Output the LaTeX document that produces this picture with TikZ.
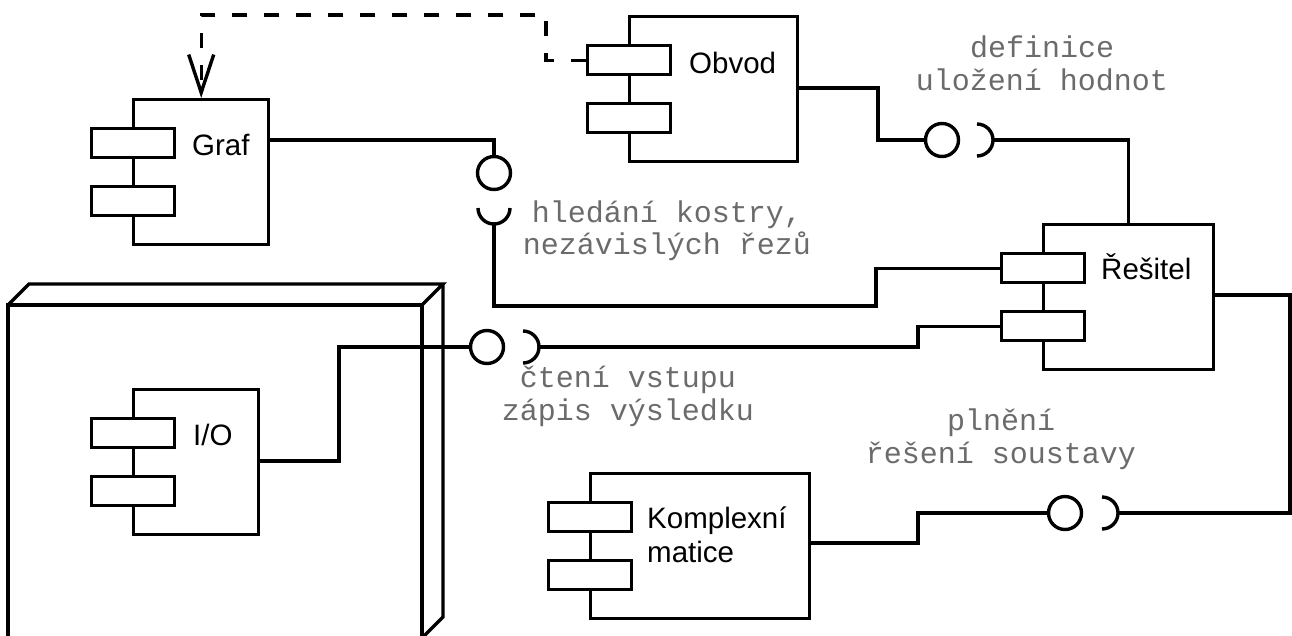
\documentclass[tikz,border=0pt]{standalone}
\usepackage{fontspec}
\newfontfamily\namefont{Liberation Sans}
\newfontfamily\lblfont{Liberation Mono}
\usetikzlibrary{arrows.meta}
\newcommand\umlcomp[4]{%
  \node[compbody, minimum width=#4pt] (#1) at (#2,#3) {};
  \node[compport] (#1-p1) at ([xshift=-42pt,yshift=-29pt]#1.north west) {};
  \node[compport] (#1-p2) at ([xshift=-42pt,yshift=-87pt]#1.north west) {};
}
\begin{document}
\begin{tikzpicture}[x=1pt,y=-1pt,
  lw/.style={line width=3.4pt},
  conn/.style={lw, line join=miter},
  compbody/.style={draw, lw, fill=white, minimum height=145pt, inner sep=0pt, anchor=north west},
  compport/.style={draw, lw, fill=white, minimum width=83pt, minimum height=29pt, inner sep=0pt, anchor=north west},
  compname/.style={font=\namefont\fontsize{29.5}{34}\selectfont, inner sep=0pt, anchor=base west},
  lbl/.style={font=\lblfont\fontsize{30}{33}\selectfont, text=black!58, inner sep=0pt, anchor=base},
  prov/.style={circle, draw, lw, fill=white, minimum size=33pt, inner sep=0pt},
]
\useasboundingbox (0,0) rectangle (1292,635);
\clip (0,0) rectangle (1292,635);

% 3D node
\draw[lw, line join=miter] (8,650) -- (8,305) -- (422,305) -- (422,650);
\draw[lw, line join=miter] (8,305) -- (29,284) -- (443,284) -- (422,305);
\draw[lw, line join=miter] (443,284) -- (443,617) -- (422,638);

% components
\umlcomp{graf}{132}{98}{135}
\umlcomp{obvod}{628}{15}{168}
\umlcomp{resitel}{1042}{223}{170}
\umlcomp{io}{132}{388}{125}
\umlcomp{kmat}{589}{472}{219}

\node[compname] (grafname) at (192,155) {Graf};
\node[compname] (obvodname) at (689,73) {Obvod};
\node[compname] (resitelname) at (1101,279) {Řešitel};
\node[compname] (ioname) at (193,445) {I/O};
\node[compname] (kmatname1) at (647,528) {Komplexní};
\node[compname] (kmatname2) at (647,562) {matice};

% provided interfaces (balls)
\node[prov] (gc) at (494,173) {};
\node[prov] (oc) at (942,140) {};
\node[prov] (ic) at (487,347) {};
\node[prov] (kc) at (1065,513) {};

% required interfaces (sockets)
\coordinate (gsock) at (494,224);
\coordinate (osock) at (993,140);
\coordinate (isock) at (539,347);
\coordinate (ksock) at (1118,513);
\draw[lw] (478,208) arc[start angle=180, end angle=0, radius=16];
\draw[lw] (977,124) arc[start angle=-90, end angle=90, radius=16];
\draw[lw] (523,331) arc[start angle=-90, end angle=90, radius=16];
\draw[lw] (1102,497) arc[start angle=-90, end angle=90, radius=16];

% bend points
\coordinate (d1) at (546,15);
\coordinate (b1) at (876,306);
\coordinate (b2) at (878,140);
\coordinate (b3) at (339,347);
\coordinate (b4) at (918,347);
\coordinate (b5) at (1290,513);
\coordinate (b6) at (918,543);

% connectors
\draw[conn, dash pattern=on 15pt off 17pt, -{Straight Barb[length=38pt,width=25pt]}]
  (obvod-p1.west) -| (d1) -| (graf.north);
\draw[conn] ([yshift=-42pt]graf.north east) -| (gc.north);
\draw[conn] (gsock) |- (b1) |- (resitel-p1.west);
\draw[conn] ([yshift=-73pt]obvod.north east) -| (b2) -- (oc.west);
\draw[conn] (osock) -| (resitel.north);
\draw[conn] ([yshift=-73pt]io.north east) -| (b3) -- (ic.west);
\draw[conn] (isock) -- (b4) |- (resitel-p2.west);
\draw[conn] ([yshift=-72pt]resitel.north east) -| (b5) -- (ksock);
\draw[conn] (kc.west) -| (b6) -- ([yshift=-71pt]kmat.north east);

% labels
\node[lbl] (l1a) at (1042,57) {definice};
\node[lbl] (l1b) at (1042,90) {uložení hodnot};
\node[lbl] (l2a) at (667,222) {hledání kostry,};
\node[lbl] (l2b) at (667,254) {nezávislých řezů};
\node[lbl] (l3a) at (628,387) {čtení vstupu};
\node[lbl] (l3b) at (628,420) {zápis výsledku};
\node[lbl] (l4a) at (1001,430) {plnění};
\node[lbl] (l4b) at (1001,463) {řešení soustavy};
\end{tikzpicture}
\end{document}
